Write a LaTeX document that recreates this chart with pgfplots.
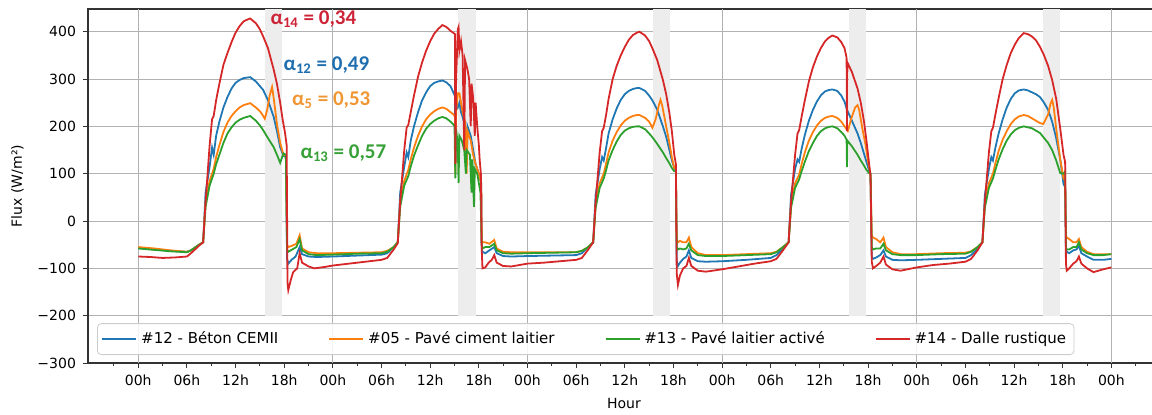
\documentclass[border=0pt]{standalone}
\usepackage{fontspec}
\setmainfont{DejaVu Sans}
\newfontfamily\carlito{Carlito}
\usepackage{pgfplots}
\pgfplotsset{compat=1.18}
\definecolor{c12}{HTML}{1F77B4}
\definecolor{c05}{HTML}{FF7F0E}
\definecolor{c13}{HTML}{2CA02C}
\definecolor{c14}{HTML}{D62728}
\definecolor{a14}{RGB}{205,35,55}
\definecolor{a12}{RGB}{31,110,175}
\definecolor{a05}{RGB}{240,150,50}
\definecolor{a13}{RGB}{55,160,55}
\begin{document}
\begin{tikzpicture}
\begin{axis}[
  scale only axis, width=536pt, height=177pt,
  xmin=-6.2, xmax=126, ymin=-300, ymax=448,
  xtick={0,6,...,120},
  xticklabels={00h,06h,12h,18h,00h,06h,12h,18h,00h,06h,12h,18h,00h,06h,12h,18h,00h,06h,12h,18h,00h},
  minor xtick={-3,3,9,...,123},
  ytick={-300,-200,...,400},
  yticklabels={−300,−200,−100,0,100,200,300,400},
  tick align=outside, tick pos=left,
  major tick length=2.5pt, minor tick length=1.5pt,
  tick style={black!80, line width=0.5pt},
  ymajorgrids=true,
  extra x ticks={0,24,48,72,96,120}, extra x tick labels={},
  extra x tick style={xmajorgrids=true, major tick length=0pt},
  grid style={black!30, line width=0.5pt},
  axis line style={black!80, line width=0.6pt},
  ticklabel style={font=\fontsize{7}{8}\selectfont},
  xlabel={Hour}, ylabel={Flux (W/m²)},
  label style={font=\fontsize{7}{8}\selectfont},
  xlabel style={yshift=3pt},
  legend columns=4,
  legend style={at={(0.0084,0.0226)}, anchor=south west, draw=black!20, rounded corners=2pt,
    fill=white, fill opacity=0.85, text opacity=1, inner sep=2pt,
    font=\fontsize{7.5}{9}\selectfont,
    /tikz/every even column/.append style={column sep=23pt}},
  legend cell align=left,
  legend image code/.code={\draw[#1, line width=0.9pt] (0pt,0pt) -- (17pt,0pt);},
]
\addplot[draw=none, fill=black!7, forget plot] coordinates {(15.6,-200) (17.7,-200) (17.7,448) (15.6,448)} -- cycle;
\addplot[draw=none, fill=black!7, forget plot] coordinates {(39.4,-200) (41.6,-200) (41.6,448) (39.4,448)} -- cycle;
\addplot[draw=none, fill=black!7, forget plot] coordinates {(63.5,-200) (65.6,-200) (65.6,448) (63.5,448)} -- cycle;
\addplot[draw=none, fill=black!7, forget plot] coordinates {(87.6,-200) (89.8,-200) (89.8,448) (87.6,448)} -- cycle;
\addplot[draw=none, fill=black!7, forget plot] coordinates {(111.6,-200) (113.7,-200) (113.7,448) (111.6,448)} -- cycle;

% #12 blue
\addplot[c12, line width=0.9pt] coordinates {
(0,-57) (2,-60) (4,-63) (6,-65) (6.5,-62) (7.5,-50) (8.0,-45)
(8.3,60) (8.8,115) (9.1,155) (9.3,140) (9.6,180) (10,210) (10.5,240) (11,262) (11.5,280) (12,292) (12.5,298) (13,302) (13.8,304) (14.5,295) (15,285) (15.4,277) (16,255) (16.7,220) (17.1,190) (17.5,156) (17.9,138) (18.2,135) (18.35,-80) (18.5,-90) (18.9,-82) (19.4,-75) (19.9,-55) (20.2,-70) (21,-75) (22,-76)
(24,-75) (27,-73) (30,-71) (30.7,-68) (31.5,-55) (32,-45)
(32.3,60) (32.8,115) (33.1,145) (33.3,135) (33.6,170) (34,200) (34.5,230) (35,255) (35.5,272) (36,285) (36.5,292) (37,295) (37.5,297) (38,293) (38.5,285) (38.9,270) (39.05,265) (39.1,130) (39.2,250) (39.4,240) (39.6,250) (39.8,230) (40.0,220) (40.3,200) (40.5,120) (40.6,200) (41,180) (41.3,150) (41.6,120) (42,100) (42.3,80) (42.35,-60) (42.45,-65) (42.8,-68) (43.3,-62) (43.9,-55) (44.2,-68) (45,-74) (46,-75)
(48,-74) (51,-73) (54,-72) (54.7,-68) (55.5,-55) (56.1,-45)
(56.4,55) (56.9,110) (57.2,135) (57.4,128) (57.7,155) (58,185) (58.5,215) (59,238) (59.5,256) (60,268) (60.5,275) (61,279) (61.5,281) (61.8,281) (62.5,275) (63,265) (63.4,255) (64,235) (64.7,200) (65.1,178) (65.5,150) (65.8,128) (66.1,112) (66.3,108) (66.4,-85) (66.55,-95) (66.8,-88) (67.2,-80) (67.6,-75) (67.9,-62) (68.2,-78) (69,-85) (70,-86)
(72,-85) (75,-82) (78,-78) (78.7,-72) (79.5,-58) (80.2,-45)
(80.5,55) (81,110) (81.3,130) (81.5,125) (81.8,152) (82.2,182) (82.7,212) (83.2,235) (83.7,253) (84.2,266) (84.7,274) (85.2,277) (85.6,278) (86.2,275) (86.7,265) (87.1,252) (87.4,235) (88,212) (88.7,185) (89.1,165) (89.5,142) (89.8,125) (90.1,108) (90.3,100) (90.45,-75) (90.6,-80) (91,-77) (91.5,-72) (91.9,-62) (92.2,-75) (93,-82) (94,-83)
(96,-82) (99,-80) (102,-78) (102.7,-72) (103.5,-58) (104.1,-45)
(104.4,55) (104.9,110) (105.2,135) (105.4,128) (105.7,155) (106.1,185) (106.6,215) (107.1,240) (107.6,258) (108.1,270) (108.6,276) (109.2,278) (109.7,276) (110.2,272) (110.7,268) (111.2,262) (111.7,250) (112.2,235) (112.7,210) (113.2,175) (113.7,130) (114.1,78) (114.3,72) (114.4,-60) (114.5,-65) (114.8,-68) (115.3,-62) (115.7,-60) (116,-52) (116.3,-68) (117,-75) (117.8,-82) (119,-82) (120,-80)
};
\addlegendentry{\#12 - Béton CEMII}

% #05 orange
\addplot[c05, line width=0.9pt] coordinates {
(0,-55) (2,-58) (4,-62) (6,-65) (6.5,-62) (7.5,-50) (8.0,-45)
(8.3,40) (8.8,85) (9.3,110) (9.6,135) (10,160) (10.5,188) (11,208) (11.5,222) (12,232) (12.5,240) (13,245) (13.8,249) (14.5,240) (15,232) (15.3,225) (15.6,216) (15.9,235) (16.2,265) (16.5,283) (16.7,260) (17.1,205) (17.5,165) (17.9,140) (18.2,138) (18.35,-50) (18.5,-55) (19,-52) (19.5,-48) (19.9,-30) (20.2,-58) (21,-66) (22,-68)
(24,-68) (27,-67) (30,-66) (30.7,-63) (31.5,-55) (32,-45)
(32.3,40) (32.8,85) (33.3,108) (33.6,130) (34,155) (34.5,180) (35,200) (35.5,215) (36,225) (36.5,232) (37,237) (37.5,240) (38,237) (38.5,230) (38.9,225) (39.05,220) (39.1,100) (39.2,230) (39.4,270) (39.6,270) (39.8,250) (40,230) (40.3,210) (40.5,100) (40.6,190) (41,170) (41.3,140) (41.6,120) (42,100) (42.3,80) (42.35,-40) (42.45,-45) (42.8,-45) (43.3,-48) (43.9,-40) (44.2,-58) (45,-65) (46,-66)
(48,-66) (51,-66) (54,-66) (54.7,-63) (55.5,-55) (56.1,-45)
(56.4,35) (56.9,80) (57.4,100) (57.7,122) (58,145) (58.5,170) (59,188) (59.5,202) (60,212) (60.5,218) (61,222) (61.5,224) (61.8,224) (62.5,218) (63,210) (63.4,197) (63.8,215) (64.2,245) (64.4,256) (64.6,245) (65.1,200) (65.5,165) (65.8,135) (66.1,112) (66.3,110) (66.4,-40) (66.55,-45) (66.8,-42) (67.2,-45) (67.6,-45) (67.9,-35) (68.2,-55) (69,-68) (70,-72)
(72,-72) (75,-70) (78,-68) (78.7,-65) (79.5,-55) (80.2,-45)
(80.5,35) (81,80) (81.5,98) (81.8,120) (82.2,145) (82.7,170) (83.2,188) (83.7,202) (84.2,212) (84.7,218) (85.2,221) (85.6,222) (86.2,218) (86.7,210) (87.1,200) (87.5,190) (87.9,215) (88.4,240) (88.7,245) (88.9,235) (89.3,195) (89.7,160) (90.0,125) (90.3,100) (90.45,-30) (90.6,-35) (91,-38) (91.5,-45) (91.9,-35) (92.2,-55) (93,-66) (94,-70)
(96,-70) (99,-68) (102,-67) (102.7,-64) (103.5,-55) (104.1,-45)
(104.4,35) (104.9,80) (105.4,100) (105.7,122) (106.1,148) (106.6,172) (107.1,190) (107.6,205) (108.1,215) (108.6,221) (109.2,224) (109.7,222) (110.2,217) (110.7,212) (111.2,207) (111.6,205) (112.2,225) (112.5,248) (112.7,256) (112.9,240) (113.2,195) (113.7,130) (114.1,90) (114.3,85) (114.4,-30) (114.5,-35) (114.8,-38) (115.3,-45) (115.7,-45) (116,-38) (116.3,-55) (117,-65) (117.8,-70) (119,-70) (120,-70)
};
\addlegendentry{\#05 - Pavé ciment laitier}

% #13 green
\addplot[c13, line width=0.9pt] coordinates {
(0,-58) (2,-61) (4,-64) (6,-66) (6.5,-62) (7.5,-50) (8.0,-45)
(8.3,30) (8.8,75) (9.3,100) (9.6,120) (10,140) (10.5,165) (11,185) (11.5,198) (12,208) (12.5,214) (13,218) (13.8,222) (14.5,212) (15,202) (15.4,192) (16,175) (16.7,156) (17.1,140) (17.5,123) (17.9,143) (18.2,140) (18.35,-60) (18.5,-65) (19,-60) (19.5,-55) (19.9,-38) (20.2,-62) (21,-70) (22,-72)
(24,-71) (27,-69) (30,-68) (30.7,-65) (31.5,-55) (32,-45)
(32.3,30) (32.8,75) (33.3,95) (33.6,115) (34,138) (34.5,160) (35,180) (35.5,195) (36,205) (36.5,212) (37,217) (37.5,220) (38,217) (38.5,210) (38.9,203) (39.0,200) (39.1,90) (39.2,195) (39.4,160) (39.5,80) (39.6,180) (39.9,170) (40.2,150) (40.4,100) (40.5,150) (40.9,140) (41.1,60) (41.2,130) (41.4,30) (41.5,110) (41.8,100) (42.0,80) (42.2,60) (42.35,-50) (42.45,-58) (42.8,-55) (43.3,-55) (43.9,-48) (44.2,-62) (45,-68) (46,-69)
(48,-68) (51,-67) (54,-66) (54.7,-63) (55.5,-55) (56.1,-45)
(56.4,28) (56.9,70) (57.4,90) (57.7,108) (58,128) (58.5,150) (59,168) (59.5,182) (60,191) (60.5,196) (61,199) (61.5,200) (61.8,200) (62.5,194) (63,185) (63.4,177) (64,163) (64.7,145) (65.1,133) (65.5,122) (65.8,112) (66.1,105) (66.3,105) (66.4,-55) (66.55,-60) (66.8,-58) (67.2,-60) (67.6,-58) (67.9,-48) (68.2,-62) (69,-72) (70,-74)
(72,-74) (75,-72) (78,-70) (78.7,-66) (79.5,-55) (80.2,-45)
(80.5,28) (81,70) (81.5,88) (81.8,105) (82.2,125) (82.7,148) (83.2,165) (83.7,180) (84.2,190) (84.7,196) (85.2,199) (85.6,200) (86.2,196) (86.7,188) (87.1,180) (87.35,172) (87.4,114) (87.45,170) (88,158) (88.7,140) (89.1,128) (89.5,117) (89.8,108) (90.1,102) (90.3,100) (90.45,-55) (90.6,-60) (91,-58) (91.5,-58) (91.9,-48) (92.2,-62) (93,-70) (94,-72)
(96,-72) (99,-70) (102,-69) (102.7,-65) (103.5,-55) (104.1,-45)
(104.4,28) (104.9,70) (105.4,90) (105.7,108) (106.1,130) (106.6,152) (107.1,170) (107.6,183) (108.1,192) (108.6,197) (109.2,200) (110.2,196) (111.2,186) (112.2,165) (112.7,150) (113.2,128) (113.7,101) (114.1,100) (114.3,105) (114.4,-55) (114.5,-60) (114.8,-60) (115.3,-55) (115.7,-55) (116,-45) (116.3,-60) (117,-68) (117.8,-72) (119,-72) (120,-70)
};
\addlegendentry{\#13 - Pavé laitier activé}

% #14 red
\addplot[c14, line width=0.9pt] coordinates {
(0,-75) (1.5,-76) (3,-78) (4.5,-77) (6,-75) (6.5,-68) (7.5,-52) (8.0,-45)
(8.3,40) (8.8,160) (9.1,215) (9.3,222) (9.6,255) (10,290) (10.5,330) (11,355) (11.5,378) (12,398) (12.5,412) (13,422) (13.5,426) (13.8,428) (14.5,418) (15,405) (15.4,390) (16,365) (16.7,320) (17.1,290) (17.5,250) (17.8,215) (18.1,186) (18.3,160) (18.4,-130) (18.5,-146) (18.8,-125) (19.1,-108) (19.6,-100) (19.9,-68) (20.2,-88) (21,-96) (21.7,-100)
(23,-97) (24,-94) (26,-90) (28,-86) (30,-82) (30.7,-78) (31.5,-60) (32,-47)
(32.3,40) (32.8,150) (33.1,198) (33.3,203) (33.6,230) (34,265) (34.5,305) (35,335) (35.5,360) (36,380) (36.5,396) (37,406) (37.5,414) (38,410) (38.5,402) (38.9,397) (39.05,395) (39.1,120) (39.2,300) (39.4,405) (39.5,410) (39.6,360) (39.8,380) (40.0,350) (40.2,150) (40.3,340) (40.6,320) (40.8,300) (41.0,200) (41.1,290) (41.3,260) (41.5,180) (41.6,250) (41.8,200) (42.0,160) (42.1,130) (42.25,100) (42.35,-60) (42.45,-100) (42.8,-98) (43.2,-88) (43.6,-82) (43.9,-72) (44.2,-88) (45,-95) (46,-96)
(48,-90) (50,-88) (52,-85) (54,-82) (54.7,-78) (55.5,-60) (56.1,-45)
(56.4,40) (56.9,145) (57.2,190) (57.4,197) (57.7,225) (58,258) (58.5,300) (59,328) (59.5,350) (60,368) (60.5,383) (61,393) (61.5,398) (61.8,400) (62.5,392) (63,380) (63.4,365) (64,340) (64.7,298) (65.1,268) (65.5,228) (65.8,190) (66.1,140) (66.3,120) (66.4,-110) (66.55,-135) (66.8,-115) (67.2,-100) (67.6,-95) (67.9,-78) (68.2,-95) (69,-105) (70,-107)
(72,-102) (74,-96) (76,-90) (78,-85) (78.7,-80) (79.5,-62) (80.2,-45)
(80.5,40) (81,140) (81.3,185) (81.5,192) (81.8,220) (82.2,255) (82.7,295) (83.2,325) (83.7,348) (84.2,366) (84.7,380) (85.2,388) (85.6,392) (86.2,388) (86.7,378) (87.1,365) (87.35,345) (87.4,190) (87.45,335) (88,315) (88.7,280) (89.1,250) (89.5,210) (89.8,170) (90.1,125) (90.3,95) (90.45,-85) (90.6,-100) (91,-95) (91.5,-88) (91.9,-75) (92.2,-92) (93,-102) (94,-105)
(96,-98) (98,-93) (100,-90) (102,-86) (102.7,-80) (103.5,-62) (104.1,-45)
(104.4,40) (104.9,145) (105.2,190) (105.4,197) (105.7,225) (106.1,260) (106.6,300) (107.1,330) (107.6,355) (108.1,373) (108.6,387) (109.2,397) (109.7,395) (110.2,390) (110.7,382) (111.2,368) (111.7,350) (112.2,328) (112.7,298) (113.2,258) (113.7,195) (114.1,140) (114.3,125) (114.4,-90) (114.5,-105) (114.8,-100) (115.3,-90) (115.7,-85) (116,-75) (116.3,-90) (117,-100) (117.8,-108) (119,-102) (120,-98)
};
\addlegendentry{\#14 - Dalle rustique}

\node[text=a14, font=\carlito\bfseries\fontsize{10.5}{12}\selectfont] at (axis cs:21.6,427) {α\textsubscript{14} = 0,34};
\node[text=a12, font=\carlito\bfseries\fontsize{10.5}{12}\selectfont] at (axis cs:23.2,330) {α\textsubscript{12} = 0,49};
\node[text=a05, font=\carlito\bfseries\fontsize{10.5}{12}\selectfont] at (axis cs:23.8,256) {α\textsubscript{5} = 0,53};
\node[text=a13, font=\carlito\bfseries\fontsize{10.5}{12}\selectfont] at (axis cs:25.3,144) {α\textsubscript{13} = 0,57};
\end{axis}
\pgfresetboundingbox
\path ([shift={(-44pt,-25.5pt)}]current axis.south west) rectangle ([shift={(-4pt,4.5pt)}]current axis.north east);
\end{tikzpicture}
\end{document}
